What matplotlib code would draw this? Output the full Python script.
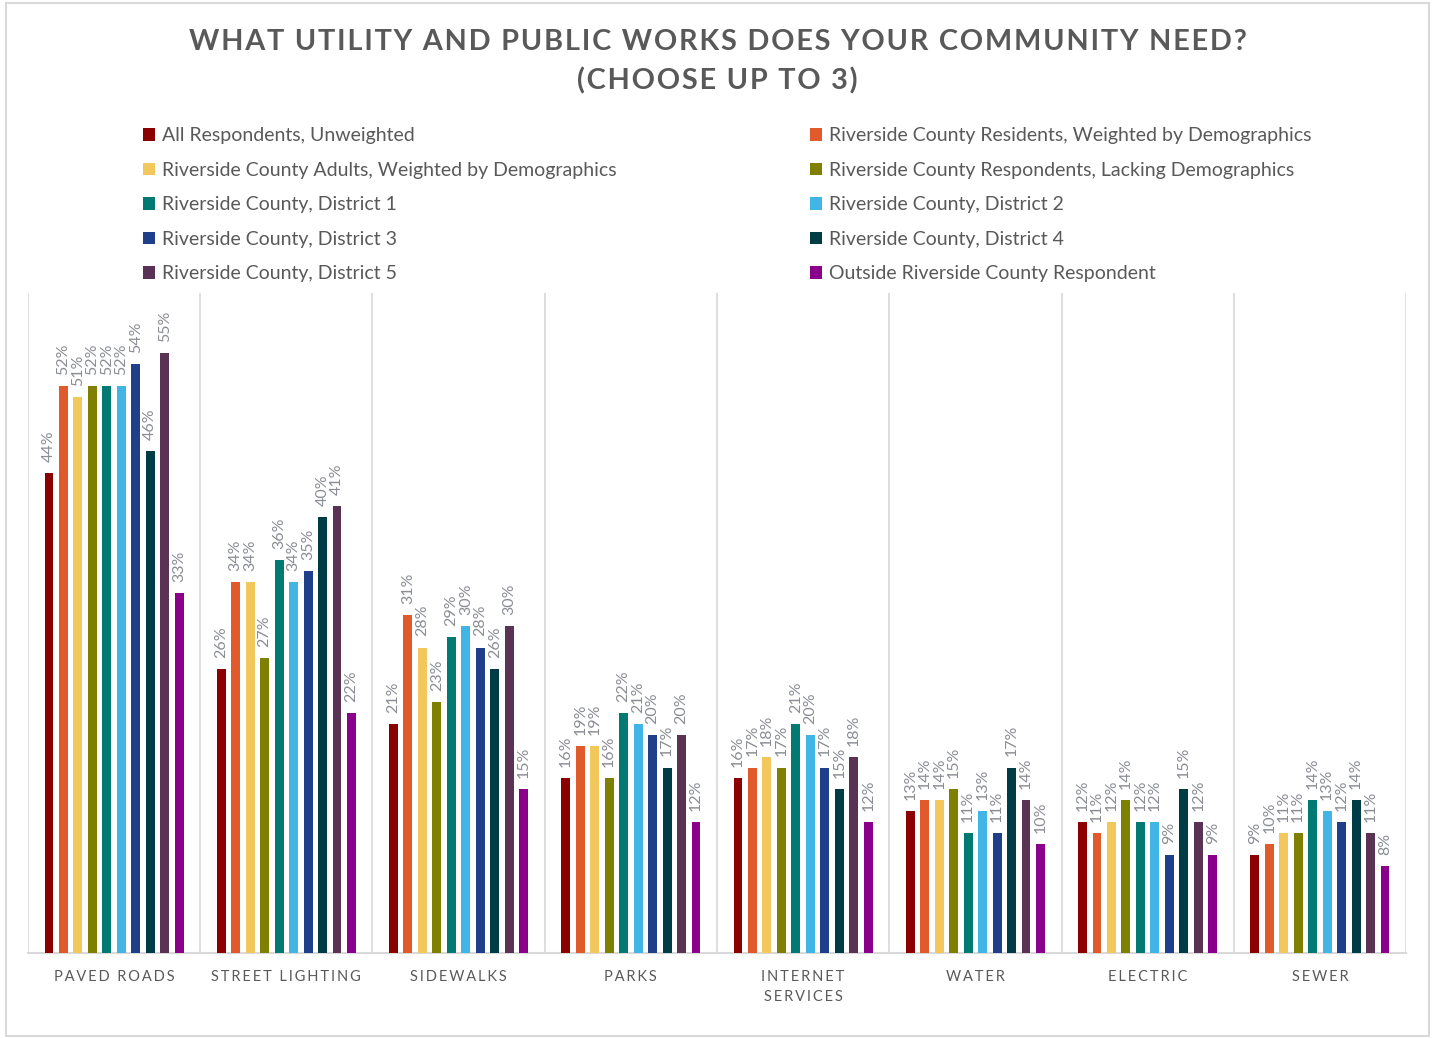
import numpy as np
import matplotlib
matplotlib.use('Agg')
import matplotlib.pyplot as plt
from matplotlib.patches import Rectangle

plt.rcParams['font.family'] = ['Lato', 'DejaVu Sans']

categories = ['PAVED ROADS', 'STREET LIGHTING', 'SIDEWALKS', 'PARKS',
              'INTERNET\nSERVICES', 'WATER', 'ELECTRIC', 'SEWER']

series_names = [
    'All Respondents, Unweighted',
    'Riverside County Residents, Weighted by Demographics',
    'Riverside County Adults, Weighted by Demographics',
    'Riverside County Respondents, Lacking Demographics',
    'Riverside County, District 1',
    'Riverside County, District 2',
    'Riverside County, District 3',
    'Riverside County, District 4',
    'Riverside County, District 5',
    'Outside Riverside County Respondent',
]

# percent values, one list per series, in category order
all_unweighted = [44, 26, 21, 16, 16, 13, 12, 9]
residents_weighted = [52, 34, 31, 19, 17, 14, 11, 10]
adults_weighted = [51, 34, 28, 19, 18, 14, 12, 11]
lacking_demo = [52, 27, 23, 16, 17, 15, 14, 11]
district_1 = [52, 36, 29, 22, 21, 11, 12, 14]
district_2 = [52, 34, 30, 21, 20, 13, 12, 13]
district_3 = [54, 35, 28, 20, 17, 11, 9, 12]
district_4 = [46, 40, 26, 17, 15, 17, 15, 14]
district_5 = [55, 41, 30, 20, 18, 14, 12, 11]
outside = [33, 22, 15, 12, 12, 10, 9, 8]

series_values = [all_unweighted, residents_weighted, adults_weighted, lacking_demo,
                 district_1, district_2, district_3, district_4, district_5, outside]

colors = ['#8b0000', '#e05a2b', '#f2c75c', '#808000', '#007a73',
          '#41b6e6', '#1f3f8a', '#003c46', '#5a3354', '#8b008b']

text_gray = '#595959'
label_gray = '#8a8d93'
line_gray = '#d9d9d9'


def spaced(s, sep='\u200a'):
    # fake letter spacing
    return '\n'.join(sep.join(line) for line in s.split('\n'))


fig = plt.figure(figsize=(14.35, 10.38), dpi=100)
fig.patches.append(Rectangle((0.004, 0.002), 0.992, 0.995, transform=fig.transFigure,
                             fill=False, edgecolor=line_gray, linewidth=1.5))

ax = fig.add_axes([0.0195, 0.0819, 0.9603, 0.6358])

x = np.arange(len(categories))
slot = 0.084
width = 0.052
n = len(series_values)
handles = []
for i, vals in enumerate(series_values):
    pos = x + (i - (n - 1) / 2) * slot
    bars = ax.bar(pos, vals, width, color=colors[i], label=series_names[i], zorder=3)
    ax.bar_label(bars, labels=[f'{v}%' for v in vals], rotation=90, padding=8,
                 color=label_gray, fontsize=11.5)
    handles.append(bars)

ax.set_xlim(-0.5, len(categories) - 0.5)
ax.set_ylim(0, 60.5)
for b in np.arange(-0.5, len(categories), 1.0):
    ax.axvline(b, color=line_gray, linewidth=1.2, zorder=1)

for s in ['top', 'right', 'left']:
    ax.spines[s].set_visible(False)
ax.spines['bottom'].set_color(line_gray)
ax.spines['bottom'].set_linewidth(1.5)
ax.set_yticks([])
ax.set_xticks(x)
ax.set_xticklabels([spaced(c, '\u2009') for c in categories], color=text_gray,
                   fontsize=10.5, linespacing=1.6)
ax.tick_params(axis='x', length=0, pad=12)

fig.text(0.5, 0.960, spaced('WHAT UTILITY AND PUBLIC WORKS DOES YOUR COMMUNITY NEED?'),
         ha='center', va='center', fontsize=20.8, fontweight='bold', color=text_gray)
fig.text(0.5, 0.922, spaced('(CHOOSE UP TO 3)'),
         ha='center', va='center', fontsize=20.8, fontweight='bold', color=text_gray)

left_idx = [0, 2, 4, 6, 8]
right_idx = [1, 3, 5, 7, 9]
for idx, xpos in [(left_idx, 0.0997), (right_idx, 0.5645)]:
    fig.legend([handles[k] for k in idx], [series_names[k] for k in idx],
               loc='upper left', bbox_to_anchor=(xpos, 0.8775), frameon=False,
               fontsize=14, labelcolor=text_gray, handlelength=0.62,
               handleheight=0.62, handletextpad=0.35, labelspacing=0.9,
               borderaxespad=0, borderpad=0)

fig.savefig('out.png', dpi=100)
